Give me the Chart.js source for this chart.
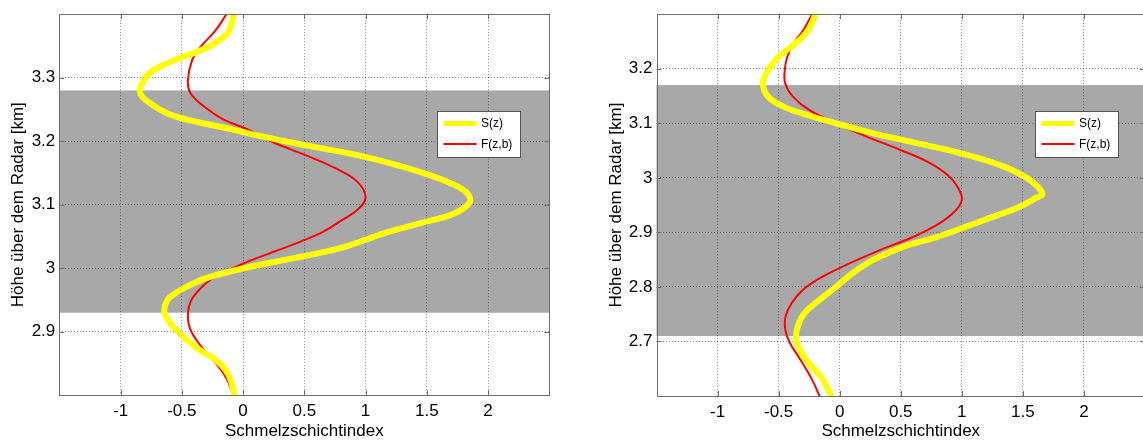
<!DOCTYPE html>
<html>
<head>
<meta charset="utf-8">
<script src="https://cdn.jsdelivr.net/npm/chart.js@4.4.1/dist/chart.umd.min.js"></script>
<style>
  html, body { margin: 0; padding: 0; background: #fff; overflow: hidden; width: 1143px; height: 443px; }
  canvas { position: absolute; top: 0; }
  #left { left: 0; }
  #right { left: 600px; }
</style>
</head>
<body>
<canvas id="left" width="570" height="443"></canvas>
<canvas id="right" width="560" height="443"></canvas>
<script>
// shared axis ticks and labels
const xTicks = [-1, -0.5, 0, 0.5, 1, 1.5, 2];
const seriesLabels = ['S(z)', 'F(z,b)'];
const xTitle = 'Schmelzschichtindex';
const yTitle = 'Höhe über dem Radar [km]';

// left profile
const leftYTicks = [2.9, 3.0, 3.1, 3.2, 3.3];
const leftBand = [2.93, 3.28];
const leftSHeight = [2.800, 2.825, 2.840, 2.856, 2.871, 2.887, 2.902, 2.917, 2.933, 2.949, 2.959, 2.970, 2.985, 3.001, 3.016, 3.032, 3.055, 3.071, 3.086, 3.104, 3.120, 3.136, 3.156, 3.177, 3.193, 3.208, 3.219, 3.234, 3.244, 3.260, 3.276, 3.296, 3.312, 3.327, 3.348, 3.369, 3.385, 3.400];
const leftSValue = [-0.07, -0.103, -0.144, -0.226, -0.349, -0.457, -0.54, -0.608, -0.643, -0.62, -0.567, -0.47, -0.294, 0.03, 0.415, 0.80, 1.15, 1.45, 1.72, 1.85, 1.82, 1.67, 1.37, 0.96, 0.525, 0.142, -0.10, -0.457, -0.62, -0.76, -0.84, -0.81, -0.73, -0.567, -0.29, -0.13, -0.095, -0.076];
const leftFHeight = [2.800, 2.825, 2.845, 2.866, 2.887, 2.907, 2.928, 2.949, 2.965, 2.980, 2.996, 3.011, 3.026, 3.042, 3.058, 3.075, 3.092, 3.112, 3.136, 3.156, 3.177, 3.198, 3.219, 3.234, 3.255, 3.276, 3.296, 3.327, 3.348, 3.374, 3.400];
const leftFValue = [-0.08, -0.13, -0.199, -0.294, -0.381, -0.436, -0.45, -0.425, -0.363, -0.28, -0.13, 0.047, 0.25, 0.47, 0.66, 0.80, 0.934, 1.0, 0.934, 0.77, 0.525, 0.25, 0.033, -0.158, -0.32, -0.43, -0.45, -0.417, -0.349, -0.226, -0.136];

// right profile
const rightYTicks = [2.7, 2.8, 2.9, 3.0, 3.1, 3.2];
const rightBand = [2.71, 3.17];
const rightSHeight = [2.600, 2.631, 2.655, 2.680, 2.704, 2.728, 2.752, 2.776, 2.800, 2.825, 2.849, 2.873, 2.891, 2.910, 2.928, 2.946, 2.964, 2.970, 2.985, 3.000, 3.022, 3.046, 3.064, 3.082, 3.100, 3.112, 3.131, 3.149, 3.173, 3.197, 3.221, 3.245, 3.270, 3.300];
const rightSValue = [-0.07, -0.139, -0.233, -0.315, -0.356, -0.343, -0.288, -0.166, -0.03, 0.106, 0.27, 0.514, 0.786, 1.03, 1.248, 1.466, 1.615, 1.66, 1.615, 1.533, 1.33, 0.976, 0.623, 0.27, -0.03, -0.22, -0.465, -0.587, -0.628, -0.587, -0.505, -0.37, -0.26, -0.198];
const rightFHeight = [2.600, 2.625, 2.649, 2.674, 2.698, 2.722, 2.746, 2.770, 2.795, 2.819, 2.843, 2.867, 2.891, 2.916, 2.940, 2.960, 2.979, 3.003, 3.028, 3.052, 3.076, 3.100, 3.124, 3.149, 3.173, 3.197, 3.221, 3.245, 3.270, 3.300];
const rightFValue = [-0.166, -0.215, -0.274, -0.343, -0.41, -0.446, -0.443, -0.394, -0.30, -0.139, 0.08, 0.324, 0.595, 0.813, 0.95, 1.0, 0.976, 0.895, 0.732, 0.487, 0.215, -0.03, -0.247, -0.383, -0.446, -0.45, -0.43, -0.383, -0.30, -0.225];

const FONT = '"Liberation Sans", Arial, Helvetica, sans-serif';

function profile(heights, values) {
  return heights.map((h, i) => ({ x: values[i], y: h }));
}

// grey melting layer band, under the grid
const meltLayer = {
  id: 'meltLayer',
  beforeDraw(chart, args, opts) {
    const { ctx, chartArea: a, scales: { y } } = chart;
    const top = y.getPixelForValue(opts.band[1]);
    const bottom = y.getPixelForValue(opts.band[0]);
    ctx.save();
    ctx.fillStyle = opts.color;
    ctx.fillRect(a.left, top, a.right - a.left, bottom - top);
    ctx.restore();
  }
};

// box around the plot with inward tick marks
const axesBox = {
  id: 'axesBox',
  afterDraw(chart, args, opts) {
    const { ctx, chartArea: a, scales: { x, y } } = chart;
    const t = opts.tick;
    ctx.save();
    ctx.strokeStyle = opts.color;
    ctx.lineWidth = 1;
    ctx.beginPath();
    x.ticks.forEach(tk => {
      const px = Math.round(x.getPixelForValue(tk.value)) + 0.5;
      ctx.moveTo(px, a.top); ctx.lineTo(px, a.top + t);
      ctx.moveTo(px, a.bottom); ctx.lineTo(px, a.bottom - t);
    });
    y.ticks.forEach(tk => {
      const py = Math.round(y.getPixelForValue(tk.value)) + 0.5;
      ctx.moveTo(a.left, py); ctx.lineTo(a.left + t, py);
      ctx.moveTo(a.right, py); ctx.lineTo(a.right - t, py);
    });
    ctx.stroke();
    ctx.strokeRect(Math.round(a.left) + 0.5, Math.round(a.top) + 0.5,
      Math.round(a.right - a.left), Math.round(a.bottom - a.top));
    ctx.restore();
  }
};

// small boxed legend inside the plot
const boxLegend = {
  id: 'boxLegend',
  afterDraw(chart, args, opts) {
    const { ctx, chartArea: a } = chart;
    const w = 83, h = 46;
    const left = Math.round(a.right - opts.right - w);
    const top = Math.round(a.top + opts.top);
    ctx.save();
    ctx.fillStyle = '#fff';
    ctx.fillRect(left, top, w, h);
    ctx.strokeStyle = '#555';
    ctx.lineWidth = 1;
    ctx.strokeRect(left + 0.5, top + 0.5, w, h);
    ctx.font = '12px ' + FONT;
    ctx.textBaseline = 'middle';
    chart.data.datasets.forEach((ds, i) => {
      const cy = top + 12.5 + i * 20.5;
      ctx.strokeStyle = ds.borderColor;
      ctx.lineWidth = ds.legendWidth;
      ctx.beginPath();
      ctx.moveTo(left + 6.5, cy);
      ctx.lineTo(left + 39.5, cy);
      ctx.stroke();
      ctx.fillStyle = '#000';
      ctx.fillText(ds.label, left + 44, cy + 0.5);
    });
    ctx.restore();
  }
};

function makeChart(id, s, f, yRange, yTicks, band, layout) {
  const ctx = document.getElementById(id);
  return new Chart(ctx, {
    type: 'line',
    data: {
      datasets: [
        { label: seriesLabels[0], data: s, borderColor: '#ffff00', borderWidth: 6, legendWidth: 5, tension: 0.4 },
        { label: seriesLabels[1], data: f, borderColor: '#ff0000', borderWidth: 2, legendWidth: 2, tension: 0.4 }
      ]
    },
    options: {
      responsive: false,
      animation: false,
      events: [],
      layout: { padding: layout.padding },
      elements: {
        point: { radius: 0 },
        line: { capBezierPoints: false, borderCapStyle: 'round', borderJoinStyle: 'round' }
      },
      datasets: { line: { clip: 0 } },
      scales: {
        x: {
          type: 'linear',
          min: -1.5, max: 2.5,
          afterBuildTicks: sc => { sc.ticks = xTicks.map(v => ({ value: v })); },
          afterFit: sc => { sc.height = layout.xHeight; },
          grid: { color: 'rgba(60,60,60,0.6)', drawTicks: false },
          border: { display: false, dash: [1, 2] },
          ticks: { color: '#000', padding: 6, font: { family: FONT, size: 17 }, callback: v => String(v), maxRotation: 0, autoSkip: false },
          title: { display: true, text: xTitle, color: '#000', font: { family: FONT, size: 17 }, padding: { top: 0, bottom: 1 } }
        },
        y: {
          type: 'linear',
          min: yRange[0], max: yRange[1],
          afterBuildTicks: sc => { sc.ticks = yTicks.map(v => ({ value: v })); },
          afterFit: sc => { sc.width = layout.yWidth; },
          grid: { color: 'rgba(60,60,60,0.6)', drawTicks: false },
          border: { display: false, dash: [1, 2] },
          ticks: { color: '#000', padding: 4, font: { family: FONT, size: 17 }, callback: v => String(v), autoSkip: false },
          title: { display: true, text: yTitle, color: '#000', font: { family: FONT, size: 17 }, padding: { top: layout.yTitlePad, bottom: 0 } }
        }
      },
      plugins: {
        legend: { display: false },
        tooltip: { enabled: false },
        meltLayer: { band: band, color: '#a8a8a8' },
        axesBox: { color: '#6e6e6e', tick: 5 },
        boxLegend: { right: layout.legendRight, top: 97 }
      }
    },
    plugins: [meltLayer, axesBox, boxLegend]
  });
}

makeChart('left', profile(leftSHeight, leftSValue), profile(leftFHeight, leftFValue),
  [2.8, 3.4], leftYTicks, leftBand,
  { padding: { top: 10, right: 20.7, left: 0, bottom: 0 }, yWidth: 59.3, xHeight: 47.7, yTitlePad: 8.3, legendRight: 29 });

makeChart('right', profile(rightSHeight, rightSValue), profile(rightFHeight, rightFValue),
  [2.6, 3.3], rightYTicks, rightBand,
  { padding: { top: 10, right: 15, left: 0, bottom: 0 }, yWidth: 56.5, xHeight: 47, yTitlePad: 6.3, legendRight: 27 });
</script>
</body>
</html>
